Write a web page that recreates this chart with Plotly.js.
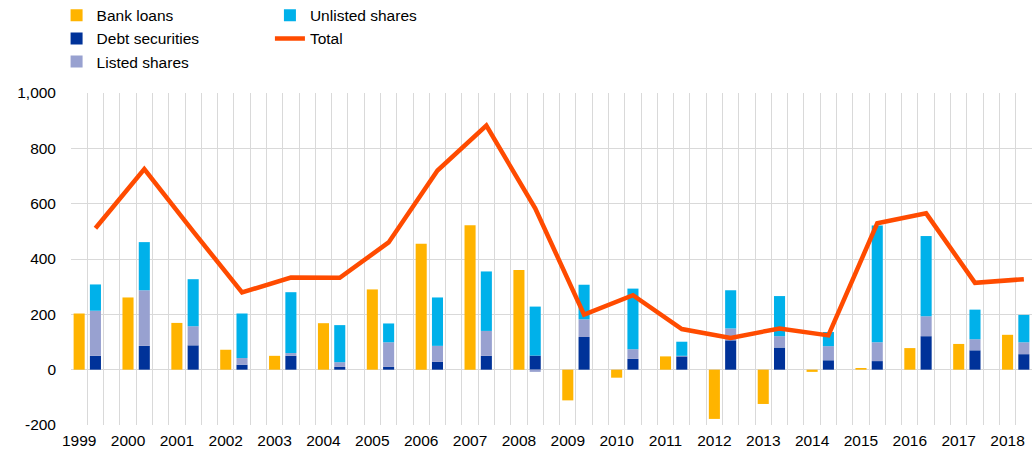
<!DOCTYPE html>
<html>
<head>
<meta charset="utf-8">
<script src="https://cdn.plot.ly/plotly-3.0.1.min.js"></script>
<style>
  html, body { margin: 0; padding: 0; background: #fff; }
  #chart { width: 1034px; height: 455px; }
</style>
</head>
<body>
<div id="chart"></div>
<script>
// annual flows, EUR billions
var years = ['1999', '2000', '2001', '2002', '2003', '2004', '2005', '2006', '2007', '2008',
             '2009', '2010', '2011', '2012', '2013', '2014', '2015', '2016', '2017', '2018'];
var bankLoans      = [203, 261, 169, 72, 50, 168, 290, 455, 522, 360, -111, -29, 48, -178, -124, -8, 6, 78, 93, 126];
var debtSecurities = [50, 86, 88, 18, 50, 10, 10, 28, 50, 51, 118, 39, 48, 106, 80, 34, 31, 121, 70, 56];
var listedShares   = [163, 201, 69, 24, 10, 17, 89, 58, 90, -8, 64, 35, 2, 43, 41, 51, 68, 72, 40, 43];
var unlistedShares = [95, 174, 170, 161, 220, 134, 68, 175, 215, 177, 125, 219, 51, 138, 145, 51, 422, 290, 107, 99];
var total          = [511, 725, 500, 279, 333, 332, 460, 720, 882, 583, 199, 269, 147, 115, 149, 124, 529, 565, 314, 327];

var yTicks = [-200, 0, 200, 400, 600, 800, 1000];
var yTickText = ['-200', '0', '200', '400', '600', '800', '1,000'];

// each year takes three slots: bank loans, stacked instruments, gap
var loansX = years.map(function(y, i) { return 3 * i + 0.5; });
var stackX = years.map(function(y, i) { return 3 * i + 1.5; });

var barWidth = 0.68;
var gridColor = '#d9d9d9';
var font = {family: 'Arial, "Liberation Sans", sans-serif', size: 15.5, color: '#000'};

var traces = [
  {x: loansX, y: bankLoans, type: 'bar', name: 'Bank loans', width: barWidth,
   marker: {color: '#FFB400'}, legend: 'legend'},
  {x: stackX, y: debtSecurities, type: 'bar', name: 'Debt securities', width: barWidth,
   marker: {color: '#003299'}, legend: 'legend'},
  {x: stackX, y: listedShares, type: 'bar', name: 'Listed shares', width: barWidth,
   marker: {color: '#98A1D0'}, legend: 'legend'},
  {x: stackX, y: unlistedShares, type: 'bar', name: 'Unlisted shares', width: barWidth,
   marker: {color: '#00B1EA'}, legend: 'legend2'},
  {x: stackX, y: total, type: 'scatter', mode: 'lines', name: 'Total',
   line: {color: '#FF4B00', width: 4.5}, legend: 'legend2'}
];

var layout = {
  width: 1034,
  height: 455,
  barmode: 'relative',
  font: font,
  plot_bgcolor: 'white',
  paper_bgcolor: 'white',
  margin: {l: 71, r: 2, t: 93, b: 30, autoexpand: false},
  hovermode: false,
  xaxis: {
    range: [0, 59],
    tickmode: 'array',
    tickvals: loansX,
    ticktext: years,
    showgrid: false,
    zeroline: false,
    showline: false,
    ticks: '',
    ticklabelstandoff: 4,
    tickfont: font,
    minor: {tickmode: 'linear', tick0: 0, dtick: 1, showgrid: true, gridcolor: gridColor, gridwidth: 1, ticks: ''}
  },
  yaxis: {
    range: [-200, 1000],
    tickmode: 'array',
    tickvals: yTicks,
    ticktext: yTickText,
    showgrid: true,
    gridcolor: gridColor,
    gridwidth: 1,
    zeroline: true,
    zerolinecolor: gridColor,
    zerolinewidth: 1,
    showline: false,
    ticks: '',
    ticklabelstandoff: 14,
    tickfont: font
  },
  legend: {
    x: -0.015, xanchor: 'left', y: 1.284, yanchor: 'top',
    orientation: 'v', traceorder: 'normal', font: font,
    bgcolor: 'rgba(0,0,0,0)', tracegroupgap: 0
  },
  legend2: {
    x: 0.207, xanchor: 'left', y: 1.284, yanchor: 'top',
    orientation: 'v', traceorder: 'normal', font: font,
    bgcolor: 'rgba(0,0,0,0)', tracegroupgap: 0
  },
  showlegend: true
};

var config = {responsive: false, displayModeBar: false, staticPlot: true};

Plotly.newPlot('chart', traces, layout, config);
</script>
</body>
</html>
